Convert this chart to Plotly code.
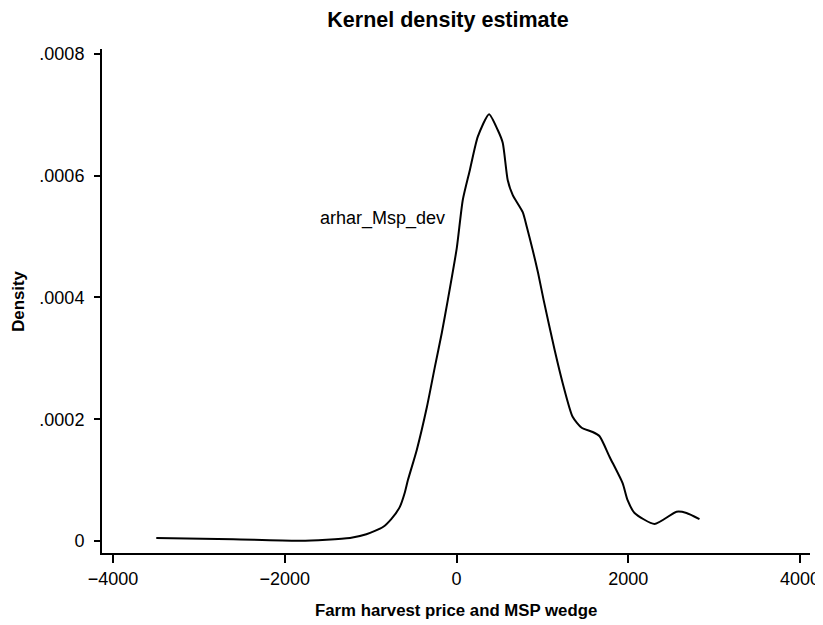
import plotly.graph_objects as go

# Kernel density curve points
x_vals = [-3496, -2600, -1819, -1240, -1050, -857, -760, -660, -601, -566, -462, -345, -252, -171, -101,
          3, 73, 155, 248, 379, 480, 538, 596, 655, 771, 818, 887, 950, 1014, 1142, 1235,
          1352, 1457, 1585, 1666, 1783, 1934, 1992, 2073, 2306, 2562, 2678, 2829]
y_vals_e4 = [0.049, 0.03, 0.005, 0.05, 0.11, 0.23, 0.36, 0.56, 0.80, 1.0, 1.5, 2.2, 2.86, 3.42, 3.96,
             4.81, 5.6, 6.09, 6.64, 7.01, 6.75, 6.54, 5.93, 5.68, 5.4, 5.16, 4.78, 4.4, 3.96, 3.14, 2.6,
             2.04, 1.86, 1.79, 1.72, 1.38, 0.95, 0.67, 0.46, 0.28, 0.48, 0.46, 0.36]
y_vals = [v * 1e-4 for v in y_vals_e4]

x_ticks = [-4000, -2000, 0, 2000, 4000]
x_tick_text = ["\u22124000", "\u22122000", "0", "2000", "4000"]
y_ticks = [0, 0.0002, 0.0004, 0.0006, 0.0008]
y_tick_text = ["0", ".0002", ".0004", ".0006", ".0008"]

series_label = "arhar_Msp_dev"
label_x, label_y = -857, 0.000529

FONT = "Liberation Sans"
W, H = 815, 617  # page body adds an 8px margin

fig = go.Figure()
fig.add_trace(go.Scatter(x=x_vals, y=y_vals, mode="lines",
                         line=dict(color="black", width=2, shape="spline", smoothing=0.6),
                         showlegend=False, hoverinfo="skip"))

fig.add_annotation(x=label_x, y=label_y, text=series_label, showarrow=False,
                   font=dict(family=FONT, size=18, color="black"),
                   xanchor="center", yanchor="middle")

fig.add_annotation(xref="paper", yref="paper", x=0.5, y=-0.115,
                   text="<b>Farm harvest price and MSP wedge</b>", showarrow=False,
                   font=dict(family=FONT, size=16.8, color="black"),
                   xanchor="center", yanchor="middle")
fig.add_annotation(xref="paper", yref="paper", x=-0.119, y=0.5,
                   text="<b>Density</b>", showarrow=False, textangle=-90,
                   font=dict(family=FONT, size=16.8, color="black"),
                   xanchor="center", yanchor="middle")

fig.update_layout(
    width=W, height=H,
    margin=dict(l=94, r=13, t=41, b=72, autoexpand=False),
    paper_bgcolor="white", plot_bgcolor="white",
    title=dict(text="<b>Kernel density estimate</b>", x=440 / W, xanchor="center",
               y=1 - 11 / H, yanchor="middle", yref="container",
               font=dict(family=FONT, size=21.5, color="black")),
    xaxis=dict(range=[-4128, 4116], tickvals=x_ticks, ticktext=x_tick_text, automargin=False,
               showgrid=False, zeroline=False, showline=True, linecolor="black", linewidth=2,
               ticks="outside", ticklen=8, tickwidth=2, tickcolor="black",
               tickfont=dict(family=FONT, size=18, color="black")),
    yaxis=dict(range=[-0.0000197, 0.000808], tickvals=y_ticks, ticktext=y_tick_text, automargin=False,
               showgrid=False, zeroline=False, showline=True, linecolor="black", linewidth=2,
               ticks="outside", ticklen=6, tickwidth=2, tickcolor="black", ticklabelstandoff=6,
               tickfont=dict(family=FONT, size=18, color="black")),
)

fig.write_html("out.html")
